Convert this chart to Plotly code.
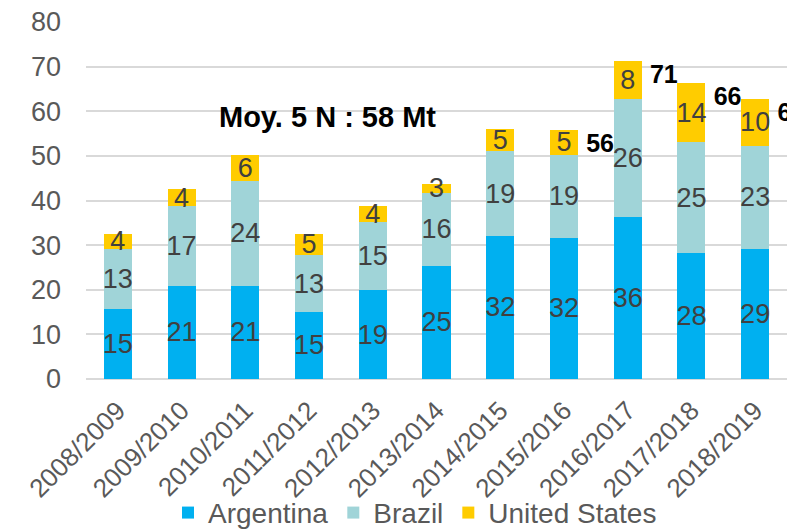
import plotly.graph_objects as go

campaigns = ["2008/2009", "2009/2010", "2010/2011", "2011/2012", "2012/2013",
             "2013/2014", "2014/2015", "2015/2016", "2016/2017", "2017/2018", "2018/2019"]

argentina = [15.7, 20.9, 20.9, 15.1, 19.9, 25.4, 32.1, 31.7, 36.4, 28.3, 29.2]
brazil = [13.4, 17.8, 23.5, 12.6, 15.3, 16.3, 18.9, 18.6, 26.4, 24.7, 23.1]
united_states = [3.5, 3.9, 5.7, 4.9, 3.6, 2.1, 5.1, 5.6, 8.5, 13.4, 10.5]

argentina_labels = ["15", "21", "21", "15", "19", "25", "32", "32", "36", "28", "29"]
brazil_labels = ["13", "17", "24", "13", "15", "16", "19", "19", "26", "25", "23"]
us_labels = ["4", "4", "6", "5", "4", "3", "5", "5", "8", "14", "10"]

total_campaigns = ["2015/2016", "2016/2017", "2017/2018", "2018/2019"]
total_values = [55.9, 71.3, 66.4, 62.8]
total_labels = ["56", "71", "66", "63"]

average_text = "Moy. 5 N : 58 Mt"

y_ticks = [0, 10, 20, 30, 40, 50, 60, 70, 80]

FONT = "Arial, Liberation Sans, sans-serif"
LABEL_COLOR = "#404040"
AXIS_COLOR = "#595959"
GRID = "#D9D9D9"

fig = go.Figure()

# total labels drawn on the main axes (behind the bars)
fig.add_trace(go.Scatter(
    x=total_campaigns, y=total_values,
    text=["<br>" + t for t in total_labels],
    mode="markers+text", textposition="middle right",
    marker=dict(size=34, color="rgba(0,0,0,0)"),
    textfont=dict(family=FONT, size=25, color="#000000", weight="bold"),
    showlegend=False, hoverinfo="skip", xaxis="x", yaxis="y",
))

series = [
    ("Argentina", argentina, argentina_labels, "#00B0F0"),
    ("Brazil", brazil, brazil_labels, "#A0D4D8"),
    ("United States", united_states, us_labels, "#FFCC00"),
]
for name, vals, labels, color in series:
    fig.add_trace(go.Bar(
        x=campaigns, y=vals, name=name, marker=dict(color=color, line=dict(width=0)),
        text=labels, textposition="inside", insidetextanchor="middle", textangle=0,
        constraintext="none",
        textfont=dict(family=FONT, size=27, color=LABEL_COLOR),
        xaxis="x2", yaxis="y2",
    ))

fig.update_layout(
    width=787, height=531,
    margin=dict(l=86, r=0, t=22, b=152, autoexpand=False),
    paper_bgcolor="white", plot_bgcolor="white",
    barmode="stack", bargap=0.56,
    uniformtext=dict(minsize=27, mode="show"),
    font=dict(family=FONT, color=AXIS_COLOR),
    xaxis=dict(type="category", categoryorder="array", categoryarray=campaigns,
               range=[-0.5, 10.5], tickangle=-45, showgrid=False,
               tickfont=dict(size=26, color=AXIS_COLOR), ticks="", showline=False,
               ticklabelstandoff=10),
    yaxis=dict(range=[0, 80], tickvals=y_ticks, showgrid=True, gridcolor=GRID,
               gridwidth=2, zeroline=True, zerolinecolor=GRID, zerolinewidth=2,
               tickfont=dict(size=27, color=AXIS_COLOR), ticks="",
               ticklabelstandoff=24),
    xaxis2=dict(type="category", categoryorder="array", categoryarray=campaigns,
                range=[-0.5, 10.5], overlaying="x", visible=False),
    yaxis2=dict(range=[0, 80], overlaying="y", visible=False),
    legend=dict(orientation="h", x=0.117, xanchor="left", y=-0.375, yanchor="middle",
                font=dict(size=28, color=AXIS_COLOR), bgcolor="rgba(0,0,0,0)",
                itemclick=False, traceorder="normal", borderwidth=0),
    annotations=[dict(text=average_text, xref="paper", yref="paper", x=0.345, y=0.733,
                      xanchor="center", yanchor="middle", showarrow=False,
                      font=dict(family=FONT, size=29, color="#000000", weight="bold"))],
)

fig.write_html("out.html")
